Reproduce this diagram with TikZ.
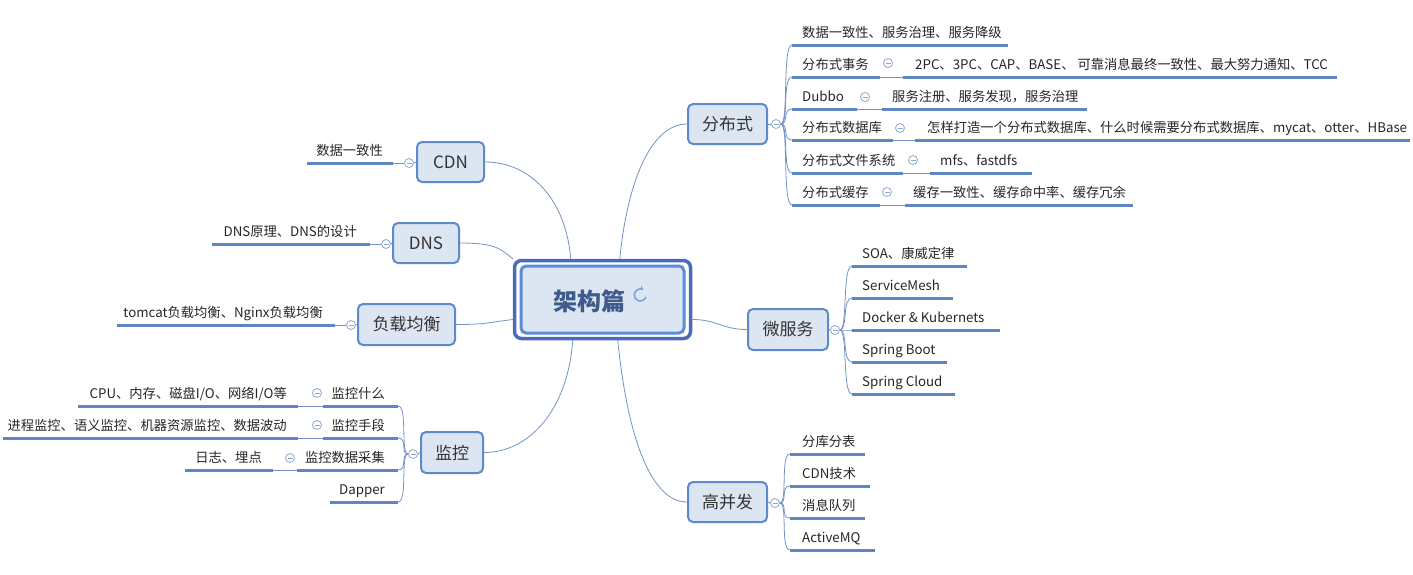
\documentclass[tikz,border=0pt]{standalone}
\usepackage{fontspec}
\setmainfont{Noto Sans CJK SC}
\usetikzlibrary{arrows.meta}
\definecolor{nodefill}{HTML}{DCE6F2}
\definecolor{nodeborder}{HTML}{5E8ACB}
\definecolor{ulcol}{HTML}{5D87C0}
\definecolor{conncol}{HTML}{7392C4}
\definecolor{circcol}{HTML}{8EA7CC}
\definecolor{rootouter}{HTML}{4A6CB8}
\definecolor{rootinner}{HTML}{5B8DD6}
\definecolor{roottext}{HTML}{3F5B8C}
\definecolor{iconcol}{HTML}{7FA3DB}
\definecolor{txtcol}{HTML}{262626}
\definecolor{branchtext}{HTML}{333333}
\tikzset{
  branch/.style={draw=nodeborder, line width=2pt, fill=nodefill, rounded corners=5pt,
    font=\fontsize{17}{20}\selectfont, text=branchtext, inner sep=0pt},
  subtxt/.style={font=\fontsize{13.3}{15}\selectfont, text=txtcol, inner sep=0pt},
  uline/.style={draw=ulcol, line width=3pt},
  conn/.style={draw=conncol, line width=0.8pt},
  coll/.style={circle, draw=circcol, fill=white, line width=0.8pt, minimum size=9pt, inner sep=0pt,
    path picture={\draw[circcol, line width=0.8pt]
      ([xshift=-2.5pt]path picture bounding box.center) -- ([xshift=2.5pt]path picture bounding box.center);}}
}
\newcommand\ulR[6]{%
  \coordinate (#1-l) at (#2,#4); \coordinate (#1-r) at (#3,#4);
  \draw[uline] (#1-l) -- (#1-r);
  \node[subtxt, anchor=base west] (#1) at (#5,#4-8) {#6};}
\newcommand\ulL[6]{%
  \coordinate (#1-l) at (#2,#4); \coordinate (#1-r) at (#3,#4);
  \draw[uline] (#1-l) -- (#1-r);
  \node[subtxt, anchor=base east] (#1) at (#5,#4-8) {#6};}
\newcommand\fanR[2]{\draw[conn] (#1.east) .. controls +(8,0) and +(-10,0) .. (#2);}
\newcommand\fanL[2]{\draw[conn] (#1.west) .. controls +(-8,0) and +(10,0) .. (#2);}
\begin{document}
\begin{tikzpicture}[x=1pt,y=-1pt]
\useasboundingbox (0,0) rectangle (1413,574);

% root
\node[draw=rootouter, fill=white, line width=3.5pt, rounded corners=7pt, minimum width=176pt, minimum height=78pt] (root) at (602.5,299.5) {};
\node[draw=rootinner, fill=nodefill, line width=3pt, rounded corners=5pt, minimum width=163pt, minimum height=67pt] (rootin) at (602.5,299.5) {};
\node[font=\fontsize{24}{28}\selectfont\bfseries, text=roottext, inner sep=0pt] (rtxt) at (589,301) {架构篇};
\draw[iconcol, line width=1.6pt, -{Stealth[length=4pt,width=5pt]}] (646,297) arc[start angle=20, end angle=300, radius=6];

% branches
\node[branch, minimum width=79pt, minimum height=40pt] (fbs) at (727.5,124) {分布式};
\node[branch, minimum width=67pt, minimum height=40pt] (cdn) at (450.5,162) {CDN};
\node[branch, minimum width=66pt, minimum height=40pt] (dns) at (426,243) {DNS};
\node[branch, minimum width=97pt, minimum height=41pt] (lb) at (406.5,324.5) {负载均衡};
\node[branch, minimum width=62pt, minimum height=41pt] (jk) at (452,452.5) {监控};
\node[branch, minimum width=80pt, minimum height=41pt] (wfw) at (788,329.5) {微服务};
\node[branch, minimum width=79pt, minimum height=40pt] (gbf) at (727.5,502) {高并发};

% root connectors
\draw[conn] ([xshift=58pt]root.north west) .. controls +(-5,-60) and +(45,0) .. (cdn.east);
\draw[conn] ([xshift=107pt]root.north west) .. controls +(8,-80) and +(-35,0) .. (fbs.west);
\draw[conn] (dns.east) .. controls +(35,0) and +(-12,-10) .. (root.north west);
\draw[conn] (lb.east) .. controls +(30,0) and +(-25,3) .. ([yshift=-20pt]root.west);
\draw[conn] ([xshift=60pt]root.south west) .. controls +(-5,70) and +(45,0) .. (jk.east);
\draw[conn] ([xshift=105pt]root.south west) .. controls +(10,100) and +(-35,0) .. (gbf.west);
\draw[conn] ([yshift=-20pt]root.east) .. controls +(25,0) and +(-25,0) .. (wfw.west);

% collapse circles of branches
\node[coll] (fbs-c) at (776,124) {};
\node[coll] (cdn-c) at (409,163) {};
\node[coll] (dns-c) at (386,244) {};
\node[coll] (lb-c) at (351,325) {};
\node[coll] (jk-c) at (413,454) {};
\node[coll] (wfw-c) at (835,330) {};
\node[coll] (gbf-c) at (775,503) {};
\draw[conn] (fbs.east) -- (fbs-c.west);
\draw[conn] (cdn.west) -- (cdn-c.east);
\draw[conn] (dns.west) -- (dns-c.east);
\draw[conn] (lb.west) -- (lb-c.east);
\draw[conn] (jk.west) -- (jk-c.east);
\draw[conn] (wfw.east) -- (wfw-c.west);
\draw[conn] (gbf.east) -- (gbf-c.west);

% 分布式
\ulR{t1}{792}{1008}{45}{802}{数据一致性、服务治理、服务降级}
\ulR{t2}{792}{880}{77}{802}{分布式事务}
\ulR{g2}{903}{1337}{77}{915}{2PC、3PC、CAP、BASE、 可靠消息最终一致性、最大努力通知、TCC}
\ulR{t3}{792}{857}{109}{802}{Dubbo}
\ulR{g3}{882}{1087}{109}{892}{服务注册、服务发现，服务治理}
\ulR{t4}{792}{893}{140}{802}{分布式数据库}
\ulR{g4}{915}{1410}{140}{927}{怎样打造一个分布式数据库、什么时候需要分布式数据库、mycat、otter、HBase}
\ulR{t5}{792}{903}{173}{802}{分布式文件系统}
\ulR{g5}{930}{1032}{173}{940}{mfs、fastdfs}
\ulR{t6}{792}{880}{205}{802}{分布式缓存}
\ulR{g6}{905}{1133}{205}{913}{缓存一致性、缓存命中率、缓存冗余}
\foreach \n in {t1,t2,t3,t4,t5,t6} {\fanR{fbs-c}{\n-l}}
\draw[conn] (t2-r) -- (g2-l);
\draw[conn] (t3-r) -- (g3-l);
\draw[conn] (t4-r) -- (g4-l);
\draw[conn] (t5-r) -- (g5-l);
\draw[conn] (t6-r) -- (g6-l);
\node[coll] (t2-c) at (888,63) {};
\node[coll] (t3-c) at (865,97) {};
\node[coll] (t4-c) at (900,128) {};
\node[coll] (t5-c) at (913,160) {};
\node[coll] (t6-c) at (887,192) {};

% 微服务
\ulR{m1}{852}{967}{266}{862}{SOA、康威定律}
\ulR{m2}{852}{953}{298}{862}{ServiceMesh}
\ulR{m3}{852}{1000}{330}{862}{Docker \& Kubernets}
\ulR{m4}{852}{947}{362}{862}{Spring Boot}
\ulR{m5}{852}{955}{394}{862}{Spring Cloud}
\foreach \n in {m1,m2,m3,m4,m5} {\fanR{wfw-c}{\n-l}}

% 高并发
\ulR{h1}{790}{865}{454}{802}{分库分表}
\ulR{h2}{790}{870}{486}{802}{CDN技术}
\ulR{h3}{790}{865}{518}{802}{消息队列}
\ulR{h4}{790}{875}{550}{802}{ActiveMQ}
\foreach \n in {h1,h2,h3,h4} {\fanR{gbf-c}{\n-l}}

% left single children
\ulL{c1}{307}{393}{163}{383}{数据一致性}
\draw[conn] (c1-r) -- (cdn-c.west);
\ulL{d1}{212}{370}{244}{357}{DNS原理、DNS的设计}
\draw[conn] (d1-r) -- (dns-c.west);
\ulL{l1}{117}{335}{325}{323}{tomcat负载均衡、Nginx负载均衡}
\draw[conn] (l1-r) -- (lb-c.west);

% 监控
\ulL{k1}{323}{398}{406}{385}{监控什么}
\ulL{kg1}{78}{298}{406}{287}{CPU、内存、磁盘I/O、网络I/O等}
\ulL{k2}{323}{398}{438}{385}{监控手段}
\ulL{kg2}{3}{298}{438}{287}{进程监控、语义监控、机器资源监控、数据波动}
\ulL{k3}{297}{398}{470}{385}{监控数据采集}
\ulL{kg3}{185}{273}{470}{262}{日志、埋点}
\ulL{k4}{330}{398}{502}{385}{Dapper}
\foreach \n in {k1,k2,k3,k4} {\fanL{jk-c}{\n-r}}
\draw[conn] (kg1-r) -- (k1-l);
\draw[conn] (kg2-r) -- (k2-l);
\draw[conn] (kg3-r) -- (k3-l);
\node[coll] (k1-c) at (317,393) {};
\node[coll] (k2-c) at (317,425) {};
\node[coll] (k3-c) at (290,458) {};
\end{tikzpicture}
\end{document}
